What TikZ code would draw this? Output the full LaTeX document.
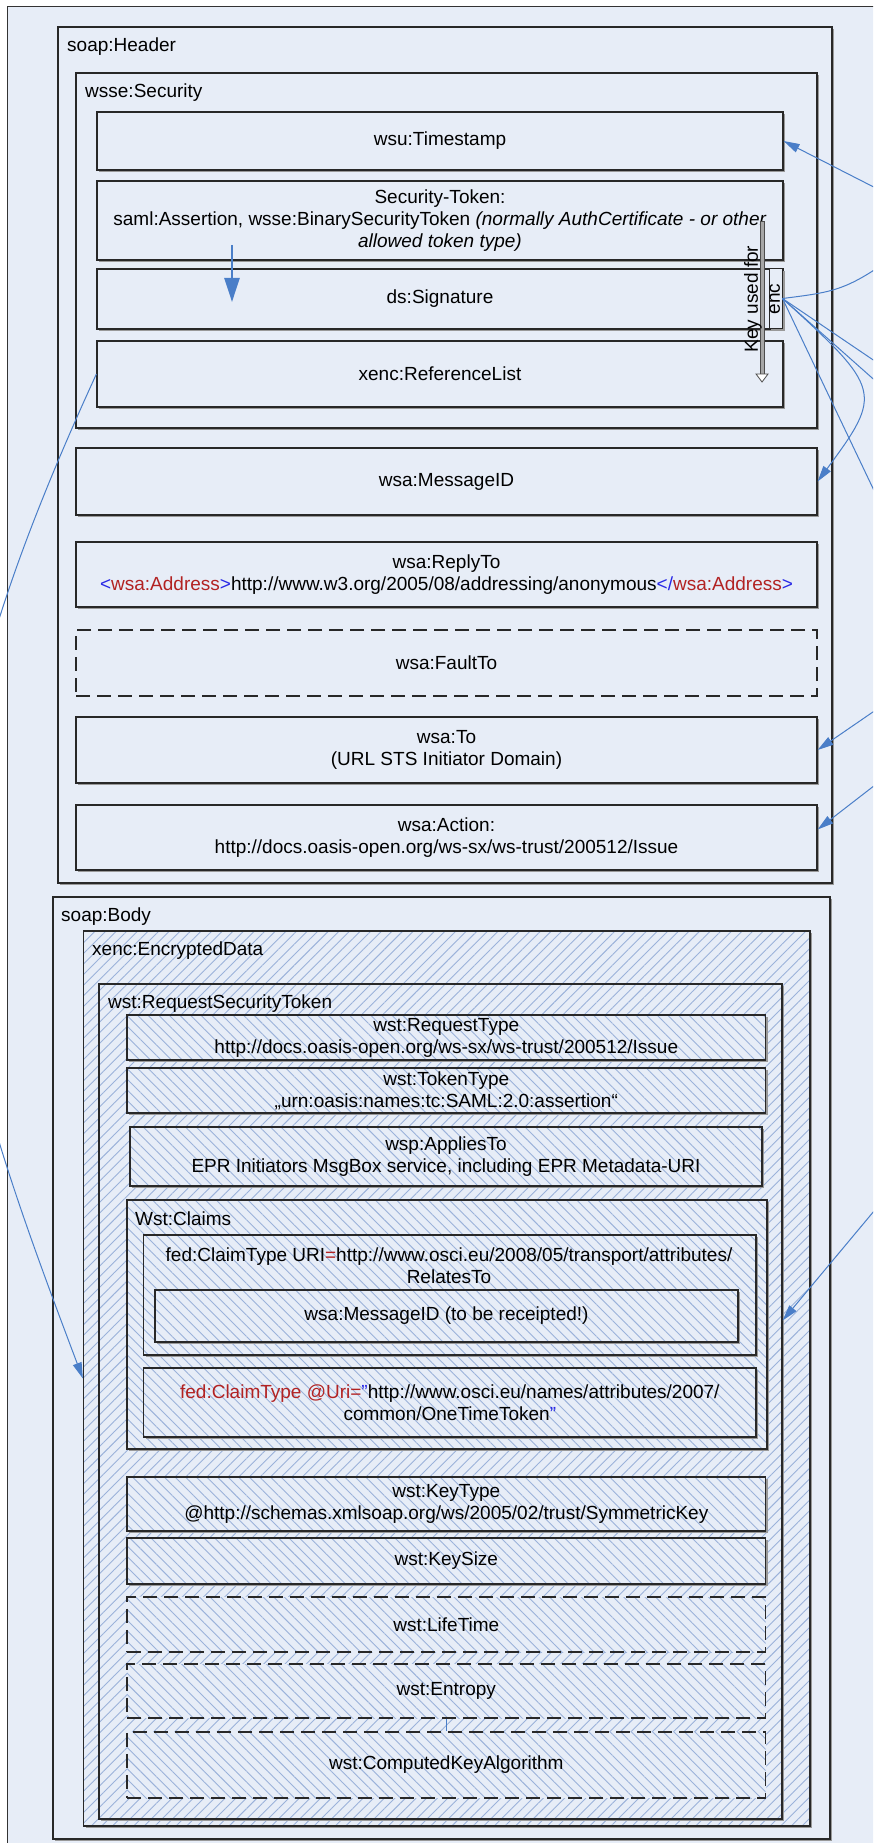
\documentclass[tikz,border=0pt]{standalone}
\usepackage{fontspec}
\setmainfont{Liberation Sans}
\usetikzlibrary{arrows.meta,patterns.meta,shadows}

\definecolor{paneblue}{RGB}{231,237,247}
\definecolor{hatchblue}{RGB}{155,178,218}
\definecolor{linkblue}{RGB}{74,126,200}
\definecolor{tagred}{RGB}{178,34,34}
\definecolor{tagblue}{RGB}{40,40,230}
\definecolor{edgegray}{RGB}{40,40,40}
\newcommand{\boxfont}{\fontsize{19}{22}\selectfont}
\newcommand{\tagr}[1]{\textcolor{tagred}{#1}}
\newcommand{\tagb}[1]{\textcolor{tagblue}{#1}}

\tikzset{
  wsbox/.style={rectangle, inner sep=0pt, draw=edgegray, line width=1.2pt, font=\boxfont, align=center},
  boxshadow/.style={drop shadow={shadow xshift=2pt, shadow yshift=-2pt, fill=black!40, opacity=1}},
  solidbox/.style={wsbox, boxshadow, fill=paneblue},
  dashbox/.style={wsbox, fill=paneblue, dash pattern=on 14pt off 7pt},
  hatchouter/.style={wsbox, boxshadow, preaction={fill=paneblue},
    preaction={pattern={Lines[angle=45,distance=7.5pt,line width=0.9pt]}, pattern color=hatchblue}},
  hatchinner/.style={wsbox, boxshadow, preaction={fill=paneblue},
    preaction={pattern={Lines[angle=-45,distance=7.5pt,line width=0.9pt]}, pattern color=hatchblue}},
  hatchdash/.style={wsbox, dash pattern=on 14pt off 7pt, preaction={fill=paneblue},
    preaction={pattern={Lines[angle=-45,distance=7.5pt,line width=0.9pt]}, pattern color=hatchblue}},
  caption/.style={anchor=west, inner sep=0pt, font=\boxfont},
  wire/.style={draw=linkblue, line width=1pt},
  wirearrow/.style={wire, -{Triangle[length=16pt,width=9pt]}},
}

\begin{document}
\begin{tikzpicture}[x=1pt,y=-1pt]
	\useasboundingbox (0,0) rectangle (873,1843);
	\clip (0,0) rectangle (873,1843);
	\draw[black!80, line width=1pt, fill=paneblue] (7,7) rectangle (900,1900);

	% Define soap:Header
	\node[solidbox, minimum width=774pt, minimum height=856pt] (Header) at (445,455) {};
	\node[caption] (HeaderTag) at (67,47) {soap:Header};

	% Define wsse:Security
	\node[solidbox, minimum width=741pt, minimum height=355pt] (Security) at (446.5,250.5) {};
	\node[caption] (SecurityTag) at (85,93) {wsse:Security};
	\node[solidbox, minimum width=686pt, minimum height=58pt] (Timestamp) at (440,141) {wsu:Timestamp};
	\node[solidbox, minimum width=686pt, minimum height=79pt] (SecToken) at (440,220.5)
		{Security-Token:\\saml:Assertion, wsse:BinarySecurityToken \textit{(normally AuthCertificate - or other}\\\textit{allowed token type)}};
	\node[solidbox, minimum width=686pt, minimum height=60pt] (Signature) at (440,299) {ds:Signature};
	\node[solidbox, minimum width=686pt, minimum height=66pt] (RefList) at (440,374) {xenc:ReferenceList};
	\node[solidbox, line width=1pt, minimum width=13pt, minimum height=59pt] (EncBox) at (775.5,298.5) {};

	\coordinate (PushTop) at (232,245);
	\coordinate (PushEnd) at (232,302);
	\draw[linkblue, line width=2.5pt, -{Triangle[length=24pt,width=15pt]}] (PushTop) -- (PushEnd);

	\coordinate (KeyTop) at (762,221);
	\coordinate (KeyEnd) at (762,382);
	\draw[black!70, fill=black!35, line width=0.8pt] ([xshift=-2pt]KeyTop) rectangle ([xshift=2pt,yshift=8pt]KeyEnd);
	\draw[black!70, fill=white, line width=0.8pt] ([xshift=-6pt,yshift=8pt]KeyEnd) -- ([xshift=6pt,yshift=8pt]KeyEnd) -- (KeyEnd) -- cycle;
	\node[font=\boxfont, rotate=90, align=center, inner sep=0pt] (KeyTag) at (762,299) {Key used for\\enc};

	% Define addressing headers
	\node[solidbox, minimum width=741pt, minimum height=67pt] (MsgID) at (446.5,481.5) {wsa:MessageID};
	\node[solidbox, minimum width=741pt, minimum height=65pt] (ReplyTo) at (446.5,574.5)
		{wsa:ReplyTo\\\tagb{<}\tagr{wsa:Address}\tagb{>}http://www.w3.org/2005/08/addressing/anonymous\tagb{</}\tagr{wsa:Address}\tagb{>}};
	\node[dashbox, minimum width=741pt, minimum height=66pt] (FaultTo) at (446.5,663) {wsa:FaultTo};
	\node[solidbox, minimum width=741pt, minimum height=66pt] (To) at (446.5,750) {wsa:To\\(URL STS Initiator Domain)};
	\node[solidbox, minimum width=741pt, minimum height=65pt] (Action) at (446.5,837.5)
		{wsa:Action:\\http://docs.oasis-open.org/ws-sx/ws-trust/200512/Issue};

	% Define soap:Body
	\node[solidbox, minimum width=777pt, minimum height=942pt] (Body) at (441.5,1368) {};
	\node[caption] (BodyTag) at (61,917) {soap:Body};
	\node[hatchouter, minimum width=726.5pt, minimum height=895pt] (EncData) at (446.75,1378.5) {};
	\node[caption] (EncDataTag) at (92,951) {xenc:EncryptedData};
	\node[hatchouter, minimum width=683pt, minimum height=835pt] (RST) at (440.5,1401.5) {};
	\node[caption] (RSTTag) at (108,1004) {wst:RequestSecurityToken};

	% Define wst:RequestSecurityToken children
	\node[hatchinner, minimum width=638.6pt, minimum height=45pt] (ReqType) at (446.3,1037.5)
		{wst:RequestType\\http://docs.oasis-open.org/ws-sx/ws-trust/200512/Issue};
	\node[hatchinner, minimum width=638.6pt, minimum height=45pt] (TokType) at (446.3,1090.5)
		{wst:TokenType\\„urn:oasis:names:tc:SAML:2.0:assertion“};
	\node[hatchinner, minimum width=632pt, minimum height=59pt] (AppliesTo) at (446,1156.5)
		{wsp:AppliesTo\\EPR Initiators MsgBox service, including EPR Metadata-URI};

	\node[hatchinner, minimum width=640pt, minimum height=249pt] (Claims) at (447,1324.5) {};
	\node[caption] (ClaimsTag) at (135,1219) {Wst:Claims};
	\node[hatchinner, minimum width=612.4pt, minimum height=120pt] (ClaimUri) at (449.8,1295) {};
	\node[font=\boxfont, align=center, inner sep=0pt] (ClaimUriTxt) at (449,1266)
		{fed:ClaimType URI\tagr{=}http://www.osci.eu/2008/05/transport/attributes/\\RelatesTo};
	\node[hatchinner, minimum width=583pt, minimum height=52pt] (Receipted) at (446.5,1316) {wsa:MessageID (to be receipted!)};
	\node[hatchinner, minimum width=612.4pt, minimum height=69pt] (ClaimOtt) at (449.8,1402.5)
		{\tagr{fed:ClaimType @Uri=}\tagb{"}http://www.osci.eu/names/attributes/2007/\\common/OneTimeToken\tagb{"}};

	\node[hatchinner, minimum width=638.6pt, minimum height=54pt] (KeyType) at (446.3,1504)
		{wst:KeyType\\@http://schemas.xmlsoap.org/ws/2005/02/trust/SymmetricKey};
	\node[hatchinner, minimum width=638.6pt, minimum height=46pt] (KeySize) at (446.3,1561) {wst:KeySize};
	\node[hatchdash, minimum width=638.6pt, minimum height=55pt] (LifeTime) at (446.3,1624.5) {wst:LifeTime};
	\node[hatchdash, minimum width=638.6pt, minimum height=54pt] (Entropy) at (446.3,1691) {wst:Entropy};
	\node[hatchdash, minimum width=638.6pt, minimum height=66pt] (CKA) at (446.3,1765) {wst:ComputedKeyAlgorithm};
	\draw[wire] (Entropy.south) -- (CKA.north);

	% Define links
	\coordinate (TsFrom) at (950,226);
	\coordinate (EncUp) at (950,215);
	\coordinate (EncA) at (950,412);
	\coordinate (EncB) at (950,447);
	\coordinate (EncC) at (950,650);
	\coordinate (ToFrom) at (950,659);
	\coordinate (ActionFrom) at (950,727);
	\coordinate (RSTFrom) at (950,1120);

	\draw[wirearrow] (TsFrom) -- (Timestamp.east);
	\draw[wire] (EncBox.east) .. controls (850,290) .. (EncUp);
	\draw[wire] (EncBox.east) -- (EncA);
	\draw[wire] (EncBox.east) -- (EncB);
	\draw[wire] (EncBox.east) -- (EncC);
	\draw[wirearrow] (EncBox.east) .. controls (882,389) and (883,393) .. (MsgID.east);
	\draw[wirearrow] (ToFrom) -- (To.east);
	\draw[wirearrow] (ActionFrom) -- ([yshift=8pt]Action.east);
	\draw[wirearrow] (RSTFrom) -- ([yshift=81pt]RST.east);
	\draw[wirearrow] (RefList.west) .. controls (-110,824) and (-69,977) .. (EncData.west);
\end{tikzpicture}
\end{document}
